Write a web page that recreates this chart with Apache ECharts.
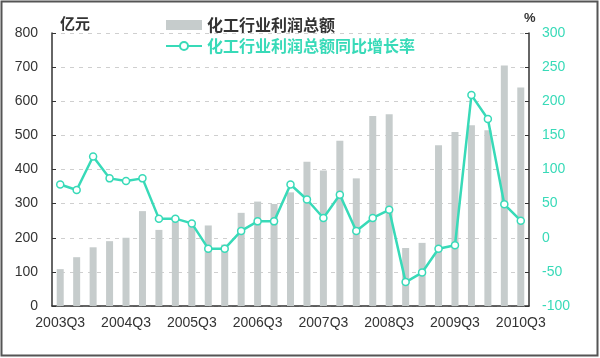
<!DOCTYPE html>
<html><head><meta charset="utf-8">
<script src="https://cdn.jsdelivr.net/npm/echarts@6/dist/echarts.min.js"></script>
<style>html,body{margin:0;padding:0;background:#fff}#c{width:600px;height:358px}</style>
</head><body><div id="c"></div>
<script>
const categories = ['2003Q3','2003Q4','2004Q1','2004Q2','2004Q3','2004Q4','2005Q1','2005Q2','2005Q3','2005Q4','2006Q1','2006Q2','2006Q3','2006Q4','2007Q1','2007Q2','2007Q3','2007Q4','2008Q1','2008Q2','2008Q3','2008Q4','2009Q1','2009Q2','2009Q3','2009Q4','2010Q1','2010Q2','2010Q3'];
const profit = [108,143,172,190,200,278,223,247,245,236,180,273,306,299,333,423,397,484,374,557,562,170,185,471,510,530,515,705,640];
const growth = [78,70,119,87,83,87,28,28,21,-16,-16,10,24,24,78,56,29,63,10,29,41,-65,-51,-16,-11,209,174,49,25];
const leftTicks = {min:0, max:800, interval:100};
const rightTicks = {min:-100, max:300, interval:50};
const barName = '化工行业利润总额';
const lineName = '化工行业利润总额同比增长率';
const teal = '#38dab8';
const chart = echarts.init(document.getElementById('c'));
chart.setOption({
  animation:false,
  backgroundColor:'#fff',
  graphic:[
    {type:'rect', shape:{x:1.5,y:1.5,width:596,height:354}, style:{fill:'none', stroke:'#555', lineWidth:2}},
    {type:'text', left:60, top:16, style:{text:'亿元', font:'bold 15px "Noto Sans CJK SC"', fill:'#333'}},
    {type:'text', left:524, top:12, style:{text:'%', font:'bold 13px "Liberation Sans"', fill:'#333'}}
  ],
  legend:{
    orient:'vertical', left:160, top:12, itemGap:5, itemWidth:36, itemHeight:10,
    data:[
      {name:barName, icon:'rect', textStyle:{color:'#333'}},
      {name:lineName, textStyle:{color:teal}}
    ],
    textStyle:{fontSize:16, fontFamily:'"Noto Sans CJK SC"', fontWeight:'bold'}
  },
  grid:{left:52, right:71, top:33, bottom:52},
  xAxis:{
    type:'category', data:categories, boundaryGap:true,
    axisLine:{lineStyle:{color:'#333', width:1.5}},
    axisTick:{interval:1, inside:true, length:4, lineStyle:{color:'#333'}},
    axisLabel:{interval:3, color:'#333', fontSize:14, fontFamily:'"Liberation Sans"', margin:10},
    splitLine:{show:false}
  },
  yAxis:[
    {type:'value', min:leftTicks.min, max:leftTicks.max, interval:leftTicks.interval,
     axisLine:{show:true, lineStyle:{color:'#333', width:1.5}},
     axisTick:{show:true, inside:true, length:4, lineStyle:{color:'#333'}},
     axisLabel:{color:'#333', fontSize:14, fontFamily:'"Liberation Sans"', margin:14},
     splitLine:{show:true, lineStyle:{color:'#cfcfcf', type:[4,5]}}},
    {type:'value', min:rightTicks.min, max:rightTicks.max, interval:rightTicks.interval,
     axisLine:{show:true, lineStyle:{color:'#333', width:1.5}},
     axisTick:{show:true, inside:true, length:4, lineStyle:{color:'#333'}},
     axisLabel:{color:teal, fontSize:14, fontFamily:'"Liberation Sans"', margin:13},
     splitLine:{show:false}}
  ],
  series:[
    {name:barName, type:'bar', data:profit, barWidth:7, yAxisIndex:0,
     itemStyle:{color:'#c6cccc'}},
    {name:lineName, type:'line', data:growth, yAxisIndex:1,
     symbol:'circle', symbolSize:7,
     lineStyle:{color:teal, width:2.5},
     itemStyle:{color:'#fff', borderColor:teal, borderWidth:1.5}}
  ]
});
</script></body></html>
